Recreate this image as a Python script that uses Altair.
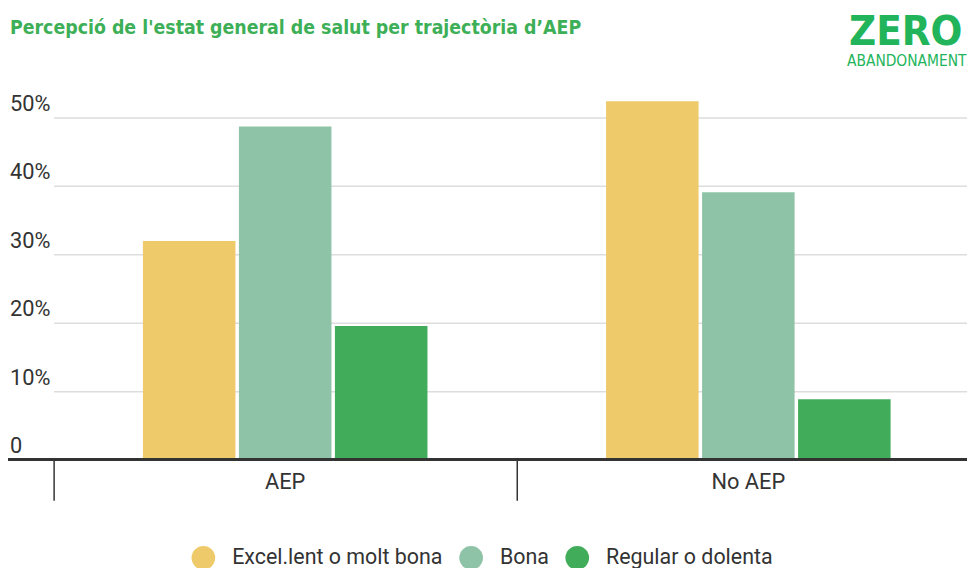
import altair as alt
import pandas as pd

groups = ["AEP", "No AEP"]
categories = ["Excel.lent o molt bona", "Bona", "Regular o dolenta"]
aep_values = [0.319, 0.486, 0.195]
no_aep_values = [0.523, 0.390, 0.088]
colors = ["#EECA6A", "#8FC3A7", "#41AD5A"]
y_ticks = [0, 0.1, 0.2, 0.3, 0.4, 0.5]
title_text = "Percepció de l'estat general de salut per trajectòria d\u2019AEP"
logo_top = "ZERO"
logo_bottom = "ABANDONAMENT"

rows = []
for g, vals in zip(groups, [aep_values, no_aep_values]):
    for c, v in zip(categories, vals):
        rows.append({"group": g, "cat": c, "value": v})
df = pd.DataFrame(rows)

FONT = "Roboto"
NARROW = "DejaVu Sans Condensed, sans-serif"
TXT = "#333333"

bars = alt.Chart(df).mark_bar().encode(
    x=alt.X(
        "group:N", sort=groups,
        scale=alt.Scale(range=[46, 980], paddingInner=0, paddingOuter=0),
        axis=alt.Axis(title=None, bandPosition=0, labelOffset=0, ticks=True,
                      tickSize=41, tickWidth=1.5, tickColor=TXT, domain=False,
                      labelPadding=-29, labelBaseline="top", labelFontSize=22,
                      labelColor=TXT, labelFont=FONT, labelAngle=0, grid=False),
    ),
    xOffset=alt.XOffset("cat:N", sort=categories,
                        scale=alt.Scale(paddingInner=0.0363, paddingOuter=0.93)),
    y=alt.Y(
        "value:Q",
        scale=alt.Scale(domain=[0, 0.55], nice=False),
        axis=alt.Axis(values=y_ticks, title=None, format=".0%",
                      labelExpr="datum.value == 0 ? '0' : datum.label",
                      domain=False, ticks=False, tickSize=0, labelAlign="left",
                      labelBaseline="alphabetic", labelPadding=-1.5, labelOffset=-7,
                      labelFontSize=22, labelColor=TXT, labelFont=FONT,
                      grid=True, gridColor="#dddddd", gridWidth=1.5),
    ),
    color=alt.Color(
        "cat:N", sort=categories,
        scale=alt.Scale(domain=categories, range=colors),
        legend=alt.Legend(title=None, orient="none", legendX=185, legendY=467,
                          direction="horizontal", symbolType="circle", symbolSize=570,
                          symbolStrokeWidth=0, symbolOpacity=1, labelFontSize=21.6,
                          labelColor=TXT, labelFont=FONT, labelOffset=17,
                          labelLimit=0, columnPadding=16, padding=0),
    ),
)

baseline = alt.Chart(pd.DataFrame({"v": [0]})).mark_rule(
    color=TXT, strokeWidth=3
).encode(y="v:Q")

title = alt.Chart(pd.DataFrame({"t": [title_text]})).mark_text(
    align="left", baseline="alphabetic", font=NARROW, fontWeight="bold",
    fontSize=19.5, color="#3DAF57"
).encode(x=alt.value(2), y=alt.value(-49), text="t:N")

logo1 = alt.Chart(pd.DataFrame({"t": [logo_top]})).mark_text(
    align="left", baseline="alphabetic", font=NARROW, fontWeight="bold",
    fontSize=42, color="#22B45A"
).encode(x=alt.value(848), y=alt.value(-38), text="t:N")

logo2 = alt.Chart(pd.DataFrame({"t": [logo_bottom]})).mark_text(
    align="left", baseline="alphabetic", font=NARROW, fontWeight="normal",
    fontSize=15.5, color="#22B45A"
).encode(x=alt.value(846), y=alt.value(-17), text="t:N")

chart = alt.layer(bars, baseline, title, logo1, logo2).properties(
    width=967, height=380,
    autosize=alt.AutoSizeParams(type="none"),
    padding={"left": 0, "top": 73, "right": 0, "bottom": 107},
    background="white",
).configure_view(stroke=None)

chart.save("out.html", embed_options={"renderer": "svg", "actions": False})
